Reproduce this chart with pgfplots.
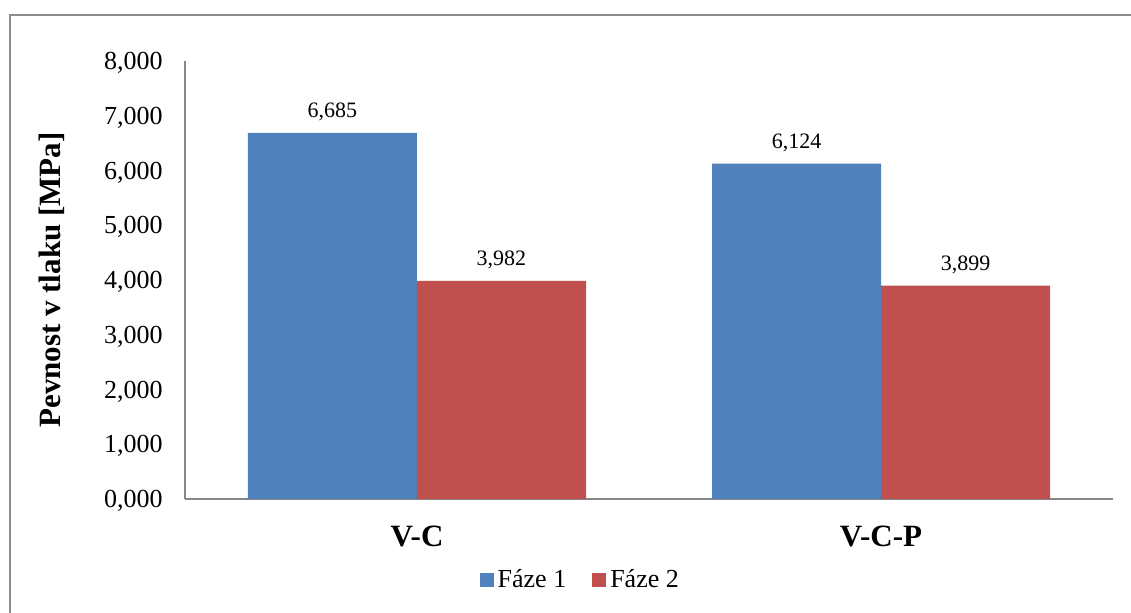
\documentclass[border=0pt]{standalone}
\usepackage{pgfplots}
\pgfplotsset{compat=1.18}
\usepackage{fontspec}
\setmainfont{Liberation Serif}

\definecolor{fazeA}{HTML}{4F81BD}
\definecolor{fazeB}{HTML}{C0504D}
\definecolor{axisgray}{HTML}{868686}
\definecolor{framegray}{HTML}{8C8C8C}

\begin{document}
\begin{tikzpicture}
\begin{axis}[
  at={(92.5pt,-249.5pt)}, anchor=south west,
  scale only axis, width=464pt, height=219pt,
  ybar=0pt, bar width=84.5pt,
  xmin=-0.5, xmax=1.5,
  ymin=0, ymax=8,
  xtick={0,1}, xticklabels={V-C, V-C-P},
  ytick={0,1,...,8},
  major tick length=0pt,
  axis lines*=left,
  axis line style={-, axisgray, line width=0.75pt},
  /pgf/number format/.cd, fixed, fixed zerofill, precision=3, use comma, assume math mode=true,
  /pgfplots/.cd,
  yticklabel style={font=\fontsize{13}{15}\selectfont, anchor=east, text depth=0pt, inner sep=0pt, xshift=-11pt},
  xticklabel style={font=\fontsize{15.5}{18}\selectfont\bfseries, anchor=center, text depth=0pt, inner sep=0pt, yshift=-18.5pt},
  ylabel={Pevnost v tlaku [MPa]},
  every axis y label/.style={at={(axis description cs:-0.1433,0.5)}, rotate=90, anchor=center,
    font=\fontsize{15.5}{18}\selectfont\bfseries},
  nodes near coords,
  every node near coord/.append style={font=\fontsize{11}{13}\selectfont, anchor=base, inner sep=0pt, yshift=7.75pt, color=black},
  legend columns=2,
  legend style={draw=none, fill=none, at={(axis description cs:0.427,-0.185)}, anchor=center,
    font=\fontsize{13}{15}\selectfont, inner sep=0pt,
    /tikz/every even column/.append style={column sep=11pt}},
  legend image code/.code={\fill[#1] (0pt,-3.5pt) rectangle (7pt,3.5pt);},
]
\addplot[fill=fazeA, draw=none] coordinates {(0,6.685) (1,6.124)};
\addplot[fill=fazeB, draw=none] coordinates {(0,3.982) (1,3.899)};
\legend{Fáze 1, Fáze 2}
\end{axis}
\draw[framegray, line width=1pt] (5pt,-320pt) -- (5pt,-7.5pt) -- (580pt,-7.5pt);
\pgfresetboundingbox
\path[use as bounding box] (0pt,0pt) rectangle (565.5pt,-306.5pt);
\end{tikzpicture}
\end{document}
